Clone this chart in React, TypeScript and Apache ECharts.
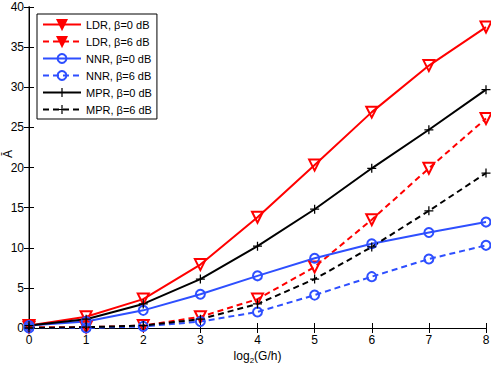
import React, { useEffect, useRef } from "react";
import * as echarts from "echarts";

const xValues = [0, 1, 2, 3, 4, 5, 6, 7, 8];
const ldr0 = [0.3, 1.4, 3.6, 7.9, 13.8, 20.3, 26.9, 32.7, 37.5];
const ldr6 = [0.1, 0.1, 0.3, 1.4, 3.6, 7.6, 13.5, 19.9, 26.1];
const nnr0 = [0.3, 0.8, 2.2, 4.2, 6.5, 8.7, 10.5, 11.9, 13.2];
const nnr6 = [0.0, 0.0, 0.2, 0.8, 2.0, 4.1, 6.4, 8.6, 10.3];
const mpr0 = [0.3, 1.1, 3.0, 6.1, 10.2, 14.8, 19.9, 24.7, 29.7];
const mpr6 = [0.0, 0.1, 0.3, 1.1, 3.0, 6.1, 10.1, 14.6, 19.3];
const seriesNames = [
  "LDR, β=0 dB",
  "LDR, β=6 dB",
  "NNR, β=0 dB",
  "NNR, β=6 dB",
  "MPR, β=0 dB",
  "MPR, β=6 dB",
];
const yTitle = "Ā";

const RED = "#ff0000";
const BLUE = "#2e4fff";
const BLACK = "#000000";
const PLUS =
  "path://M-1,-0.14 H-0.14 V-1 H0.14 V-0.14 H1 V0.14 H0.14 V1 H-0.14 V0.14 H-1 Z";
const FONT = "Liberation Sans, Arial, sans-serif";

export default function App() {
  const ref = useRef<HTMLDivElement>(null);
  useEffect(() => {
    if (!ref.current) return;
    const chart = echarts.init(ref.current, undefined, { renderer: "svg" });
    const mk = (
      name: string,
      vals: number[],
      color: string,
      dashed: boolean,
      kind: "tri" | "circ" | "plus"
    ) => {
      const base: any = {
        name,
        type: "line",
        data: xValues.map((x, i) => [x, vals[i]]),
        lineStyle: { color, width: 2, type: dashed ? [6, 4] : "solid" },
        showSymbol: true,
        z: 3,
      };
      if (kind === "tri") {
        base.symbol = "triangle";
        base.symbolRotate = 180;
        base.symbolSize = 11;
        base.itemStyle = { color: "rgba(255,255,255,0)", borderColor: color, borderWidth: 2 };
      } else if (kind === "circ") {
        base.symbol = "circle";
        base.symbolSize = 9;
        base.itemStyle = { color: "rgba(255,255,255,0)", borderColor: color, borderWidth: 2 };
      } else {
        base.symbol = PLUS;
        base.symbolSize = 9;
        base.itemStyle = { color, borderWidth: 0 };
      }
      base.color = color;
      return base;
    };
    const option: any = {
      animation: false,
      textStyle: { fontFamily: FONT },
      grid: {
        left: 29,
        right: 5,
        top: 7,
        bottom: 40,
        containLabel: false,
        outerBoundsMode: "none",
      },
      graphic: [
        {
          type: "text",
          x: 8,
          y: 154,
          rotation: Math.PI / 2,
          style: {
            text: yTitle,
            fontSize: 12,
            fontFamily: FONT,
            fill: "#000",
            align: "center",
            verticalAlign: "middle",
          },
        },
      ],
      legend: {
        orient: "vertical",
        left: 37,
        top: 14,
        width: 121,
        backgroundColor: "#fff",
        borderColor: "#000",
        borderWidth: 1,
        padding: [5, 5, 4, 5],
        itemGap: 6,
        itemWidth: 38,
        itemHeight: 11,
        textStyle: { fontSize: 11, color: "#000", fontFamily: FONT },
        data: [
          { name: seriesNames[0], itemStyle: { color: RED } },
          { name: seriesNames[1], itemStyle: { color: RED } },
          { name: seriesNames[2] },
          { name: seriesNames[3] },
          { name: seriesNames[4] },
          { name: seriesNames[5] },
        ],
      },
      xAxis: [
        {
          type: "value",
          min: 0,
          max: 8,
          interval: 1,
          name: "log{sub|2}(G/h)",
          nameLocation: "middle",
          nameGap: 20,
          nameMoveOverlap: false,
          nameTextStyle: {
            fontSize: 12,
            color: "#000",
            fontFamily: FONT,
            rich: { sub: { fontSize: 8, padding: [8, 0, 0, 0], fontFamily: FONT } },
          },
          axisLine: { show: true, lineStyle: { color: "#000", width: 1 } },
          axisTick: { show: true, inside: true, length: 5, lineStyle: { color: "#000" } },
          axisLabel: { fontSize: 12, color: "#000", margin: 6, fontFamily: FONT },
          splitLine: { show: false },
        },
        {
          type: "value",
          position: "top",
          min: 0,
          max: 8,
          interval: 1,
          axisLine: { show: true, lineStyle: { color: "#000", width: 1 } },
          axisTick: { show: true, inside: true, length: 5, lineStyle: { color: "#000" } },
          axisLabel: { show: false },
          splitLine: { show: false },
        },
      ],
      yAxis: [
        {
          type: "value",
          min: 0,
          max: 40,
          interval: 5,
          axisLine: { show: true, lineStyle: { color: "#888", width: 2 } },
          axisTick: { show: true, inside: true, length: 5, lineStyle: { color: "#000" } },
          axisLabel: { fontSize: 12, color: "#000", margin: 5, fontFamily: FONT },
          splitLine: { show: false },
        },
        {
          type: "value",
          position: "right",
          min: 0,
          max: 40,
          interval: 5,
          axisLine: { show: true, lineStyle: { color: "#000", width: 1 } },
          axisTick: { show: true, inside: true, length: 5, lineStyle: { color: "#000" } },
          axisLabel: { show: false },
          splitLine: { show: false },
        },
      ],
      series: [
        mk(seriesNames[0], ldr0, RED, false, "tri"),
        mk(seriesNames[1], ldr6, RED, true, "tri"),
        mk(seriesNames[2], nnr0, BLUE, false, "circ"),
        mk(seriesNames[3], nnr6, BLUE, true, "circ"),
        mk(seriesNames[4], mpr0, BLACK, false, "plus"),
        mk(seriesNames[5], mpr6, BLACK, true, "plus"),
      ],
    };
    chart.setOption(option);
    return () => chart.dispose();
  }, []);
  return (
    <div
      ref={ref}
      style={{ position: "fixed", left: 0, top: 0, width: 491, height: 368, background: "#fff" }}
    />
  );
}
